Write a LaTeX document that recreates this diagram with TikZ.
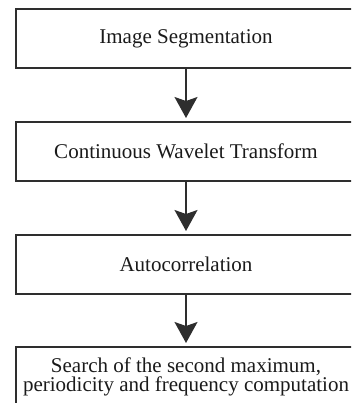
\documentclass[tikz,border=0pt]{standalone}
\usepackage{fontspec}
\setmainfont{Liberation Serif}
\usetikzlibrary{arrows.meta}
\definecolor{linegray}{HTML}{2E2E2E}
\definecolor{textgray}{HTML}{1A1A1A}
\begin{document}
\begin{tikzpicture}[x=1pt,y=1pt,
  stepbox/.style={draw=linegray, line width=2pt, minimum width=340pt, minimum height=59pt,
    inner sep=0pt, align=center, text=textgray, font=\fontsize{21}{18}\selectfont},
  flowarrow/.style={draw=linegray, line width=1.6pt,
    -{Stealth[length=21pt,width=23pt,inset=4pt]}, shorten >=3pt}]
\useasboundingbox (0,0) rectangle (351,403);
\clip (0,0) rectangle (351,403);
\node[stepbox] (b1) at (186,364.5) {Image Segmentation};
\node[stepbox] (b2) at (186,251.5) {Continuous Wavelet Transform};
\node[stepbox] (b3) at (186,138.5) {Autocorrelation};
\node[stepbox] (b4) at (186,26.5) {Search of the second maximum,\\periodicity and frequency computation};
\draw[flowarrow] (b1.south) -- (b2.north);
\draw[flowarrow] (b2.south) -- (b3.north);
\draw[flowarrow] (b3.south) -- (b4.north);
\end{tikzpicture}
\end{document}
